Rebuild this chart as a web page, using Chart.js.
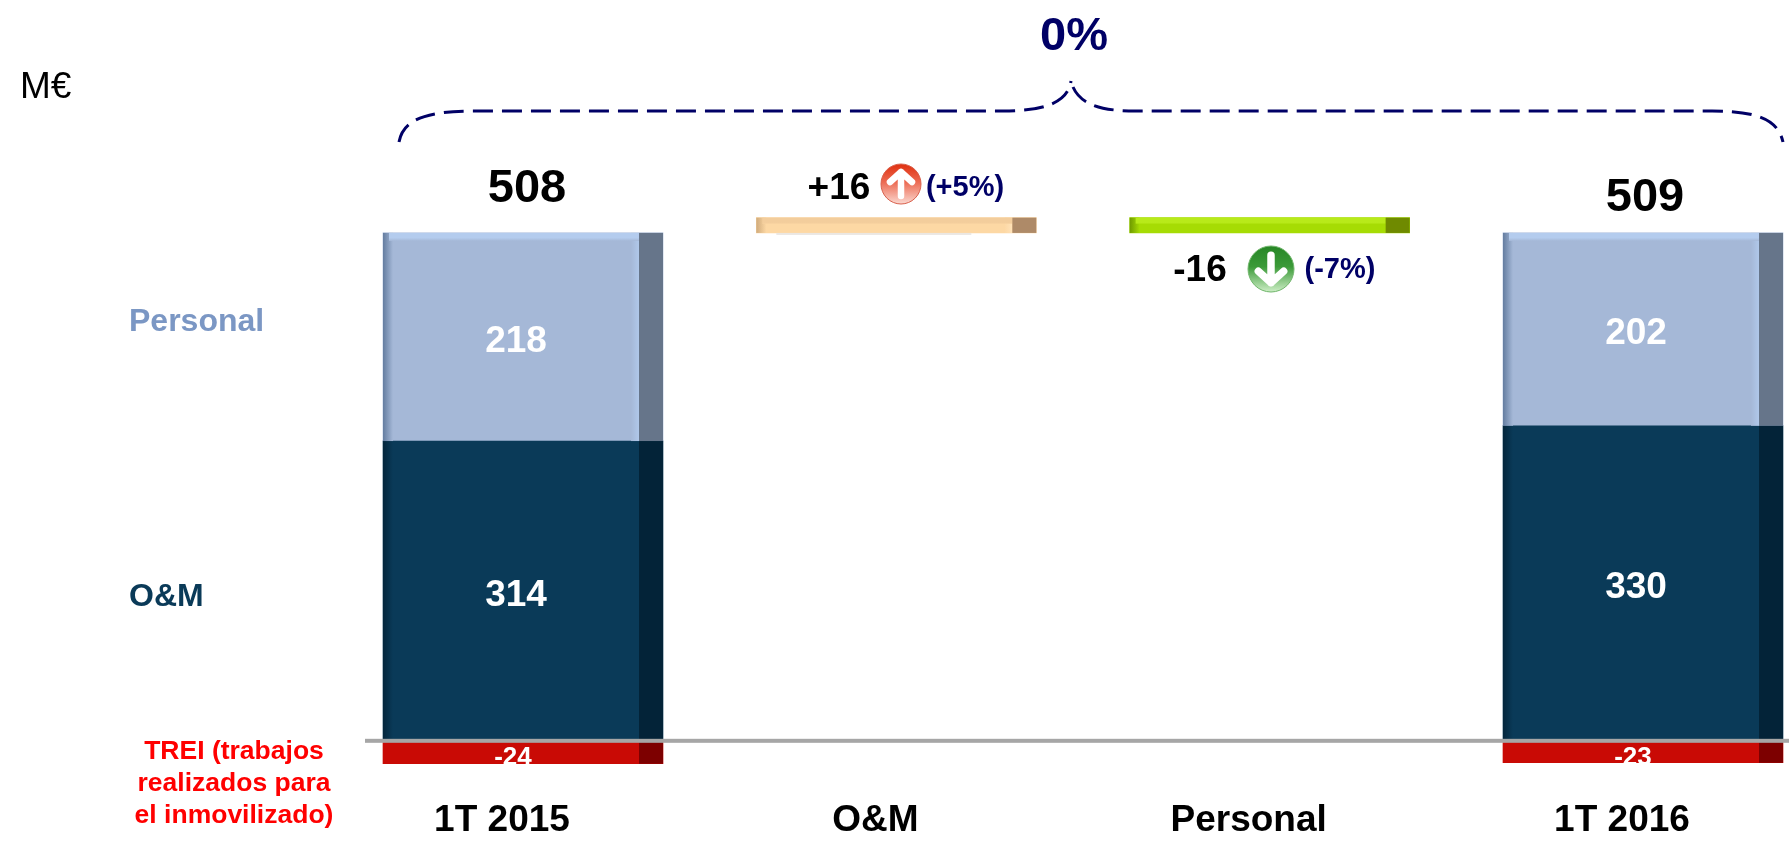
<!DOCTYPE html>
<html>
<head>
<meta charset="utf-8">
<title>Gastos operativos</title>
<script src="https://cdn.jsdelivr.net/npm/chart.js@4"></script>
<style>
  html, body { margin: 0; padding: 0; background: #fff; overflow: hidden; }
  canvas { display: block; }
</style>
</head>
<body>
<canvas id="costChart" width="1789" height="842"></canvas>
<script>
const categories = ['1T 2015', 'O&M', 'Personal', '1T 2016'];
const treiValues = [-24, null, null, -23];
const omValues = [314, null, null, 330];
const personalValues = [218, null, null, 202];
const stepValues = [null, [532, 548], [532, 548], null];
const totals = ['508', null, null, '509'];

const FONT = '"Liberation Sans", Arial, sans-serif';
const NAVY = '#000066';

// front colour, side colour, top strip, left edge
const treiStyle = { face: '#c90a05', side: '#7d0000' };
const omStyle = { face: '#0a3a58', side: '#032338', left: '#04263c' };
const personalStyle = { face: '#a5b8d7', side: '#66758a', top: '#b4ccee', left: '#647da0', glow: '#b0c8ea' };
const omStepStyle = { face: '#fdd8a4', side: '#ae8a68', top: '#f3cd9c', left: '#d0ab7c', glow: '#ffe2b8', shadow: '#ebe7e2' };
const personalStepStyle = { face: '#a6dc04', side: '#6f8a00', top: '#b8ea1a', left: '#6f9a00' };

const SIDE_WIDTH = 24;

function text(ctx, str, x, y, font, color, align) {
  ctx.font = font;
  ctx.fillStyle = color;
  ctx.textAlign = align || 'center';
  ctx.textBaseline = 'alphabetic';
  ctx.fillText(str, x, y);
}

// Paint the fake 3D side and edges over a bar the library has drawn
function shadeBar(ctx, bar, style) {
  const left = bar.x - bar.width / 2;
  const right = bar.x + bar.width / 2;
  const top = Math.min(bar.y, bar.base);
  const h = Math.abs(bar.base - bar.y);

  if (style.left) {
    const g = ctx.createLinearGradient(left, 0, left + 10, 0);
    g.addColorStop(0, style.left);
    g.addColorStop(1, style.face);
    ctx.fillStyle = g;
    ctx.fillRect(left, top, 10, h);
  }
  if (style.glow) {
    const g = ctx.createLinearGradient(right - SIDE_WIDTH - 8, 0, right - SIDE_WIDTH, 0);
    g.addColorStop(0, style.face);
    g.addColorStop(1, style.glow);
    ctx.fillStyle = g;
    ctx.fillRect(right - SIDE_WIDTH - 8, top, 8, h);
  }
  if (style.top) {
    const g = ctx.createLinearGradient(0, top, 0, top + 8);
    g.addColorStop(0, style.top);
    g.addColorStop(0.6, style.top);
    g.addColorStop(1, style.face);
    ctx.fillStyle = g;
    ctx.fillRect(left + 6, top, bar.width - SIDE_WIDTH - 6, Math.min(8, h * 0.4));
  }
  ctx.fillStyle = style.side;
  ctx.fillRect(right - SIDE_WIDTH, top, SIDE_WIDTH, h);
  if (style.shadow) {
    ctx.fillStyle = style.shadow;
    ctx.fillRect(left + 20, top + h, 195, 2);
  }
}

function drawBadge(ctx, cx, cy, r, up, dark, mid, light, rim) {
  const g = ctx.createLinearGradient(0, cy - r, 0, cy + r);
  g.addColorStop(0, dark);
  g.addColorStop(0.45, mid);
  g.addColorStop(1, light);
  ctx.beginPath();
  ctx.arc(cx, cy, r, 0, Math.PI * 2);
  ctx.fillStyle = g;
  ctx.fill();
  ctx.strokeStyle = rim;
  ctx.lineWidth = 1;
  ctx.stroke();

  const dir = up ? -1 : 1;
  const s = r / 20;
  ctx.strokeStyle = '#fff';
  ctx.lineWidth = 6.5 * s;
  ctx.lineCap = 'round';
  ctx.lineJoin = 'round';
  ctx.beginPath();
  ctx.moveTo(cx, cy - dir * 12 * s);
  ctx.lineTo(cx, cy + dir * 12 * s);
  ctx.moveTo(cx - 11 * s, cy + dir * 2 * s);
  ctx.lineTo(cx, cy + dir * 12 * s);
  ctx.lineTo(cx + 11 * s, cy + dir * 2 * s);
  ctx.stroke();
  ctx.lineCap = 'butt';
}

function drawBrace(ctx) {
  ctx.save();
  ctx.strokeStyle = NAVY;
  ctx.lineWidth = 3;
  ctx.setLineDash([20, 9]);
  ctx.beginPath();
  ctx.moveTo(399, 142);
  ctx.bezierCurveTo(403, 120, 425, 111, 474, 111);
  ctx.lineTo(1003, 111);
  ctx.bezierCurveTo(1046, 111, 1068, 102, 1071, 81);
  ctx.stroke();
  ctx.beginPath();
  ctx.moveTo(1073, 87);
  ctx.bezierCurveTo(1080, 103, 1098, 111, 1135, 111);
  ctx.lineTo(1712, 111);
  ctx.bezierCurveTo(1758, 111, 1778, 120, 1783, 142);
  ctx.stroke();
  ctx.restore();
}

const annotations = {
  id: 'annotations',
  afterDatasetsDraw(chart) {
    const ctx = chart.ctx;
    const yScale = chart.scales.y;
    const xScale = chart.scales.x;

    ctx.save();

    // 3D look on every bar
    chart.data.datasets.forEach((ds, i) => {
      chart.getDatasetMeta(i).data.forEach((bar, j) => {
        if (ds.data[j] === null) return;
        const styles = ds.barStyles;
        shadeBar(ctx, bar, styles[j] || styles[0]);
      });
    });

    // Zero line
    const zero = yScale.getPixelForValue(0);
    ctx.fillStyle = '#a6a6a6';
    ctx.fillRect(365, zero - 2, chart.width - 365, 4);

    // Values inside the bars
    chart.data.datasets.forEach((ds, i) => {
      if (ds.showValue === false) return;
      chart.getDatasetMeta(i).data.forEach((bar, j) => {
        if (ds.data[j] === null) return;
        const mid = (bar.y + bar.base) / 2;
        if (ds.data[j] < 0) {
          text(ctx, String(ds.data[j]), bar.x - 10, mid + 13, 'bold 26px ' + FONT, '#fff');
        } else {
          text(ctx, String(ds.data[j]), bar.x - 7, mid + 15, 'bold 37px ' + FONT, '#fff');
        }
      });
    });

    // Totals over the bars
    const barsTop = yScale.getPixelForValue(532);
    text(ctx, totals[0], xScale.getPixelForValue(0) + 4, barsTop - 31, 'bold 47px ' + FONT, '#000');
    text(ctx, totals[3], xScale.getPixelForValue(3) + 2, barsTop - 22, 'bold 47px ' + FONT, '#000');

    // Changes over and under the steps
    text(ctx, '+16', 839, 199, 'bold 37px ' + FONT, '#000');
    drawBadge(ctx, 901, 184, 20, true, '#e0300f', '#ec6a52', '#fbd8d0', '#d8604c');
    text(ctx, '(+5%)', 965, 196, 'bold 29px ' + FONT, NAVY);
    text(ctx, '-16', 1200, 281, 'bold 37px ' + FONT, '#000');
    drawBadge(ctx, 1271, 269, 23, false, '#268626', '#3b9a38', '#cdeec6', '#6fb56a');
    text(ctx, '(-7%)', 1340, 278, 'bold 29px ' + FONT, NAVY);

    // Series names on the left
    text(ctx, 'Personal', 129, 331, 'bold 32px ' + FONT, '#7b97c4', 'left');
    text(ctx, 'O&M', 129, 606, 'bold 32px ' + FONT, '#0a3a58', 'left');
    const treiFont = 'bold 26.5px ' + FONT;
    text(ctx, 'TREI (trabajos', 234, 759, treiFont, '#ff0000');
    text(ctx, 'realizados para', 234, 791, treiFont, '#ff0000');
    text(ctx, 'el inmovilizado)', 234, 823, treiFont, '#ff0000');

    // Unit and overall change
    text(ctx, 'M€', 20, 98, '37px ' + FONT, '#000', 'left');
    text(ctx, '0%', 1074, 50, 'bold 47px ' + FONT, NAVY);
    drawBrace(ctx);

    ctx.restore();
  }
};

new Chart(document.getElementById('costChart').getContext('2d'), {
  type: 'bar',
  data: {
    labels: categories,
    datasets: [
      { label: 'TREI', data: treiValues, backgroundColor: treiStyle.face, barStyles: [treiStyle] },
      { label: 'O&M', data: omValues, backgroundColor: omStyle.face, barStyles: [omStyle] },
      { label: 'Personal', data: personalValues, backgroundColor: personalStyle.face, barStyles: [personalStyle] },
      {
        label: 'Variación',
        data: stepValues,
        backgroundColor: [null, omStepStyle.face, personalStepStyle.face, null],
        barStyles: [null, omStepStyle, personalStepStyle, null],
        showValue: false
      }
    ]
  },
  options: {
    responsive: false,
    animation: false,
    layout: { padding: { left: 523, right: 146, top: 168, bottom: 0 } },
    plugins: { legend: { display: false }, tooltip: { enabled: false } },
    datasets: { bar: { barThickness: 280, clip: false, borderWidth: 0 } },
    scales: {
      x: {
        stacked: true,
        offset: false,
        grid: { display: false, drawTicks: false },
        border: { display: false },
        ticks: {
          color: '#000',
          font: { family: FONT, size: 37, weight: 'bold' },
          maxRotation: 0,
          autoSkip: false,
          labelOffset: -21,
          padding: 20
        },
        afterFit(scale) { scale.height = 842 - 779; }
      },
      y: {
        stacked: true,
        display: false,
        min: -40,
        max: 600
      }
    }
  },
  plugins: [annotations]
});
</script>
</body>
</html>
